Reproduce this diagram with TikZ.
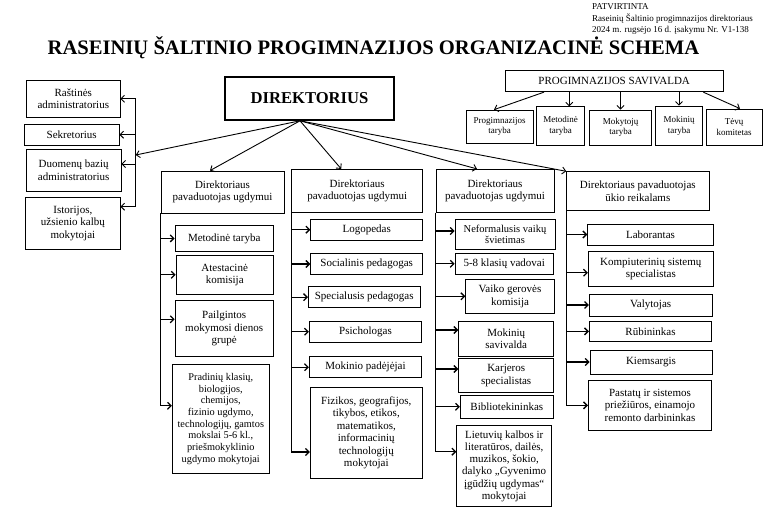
\documentclass[tikz,border=0pt]{standalone}
\usepackage{fontspec}
\setmainfont{Liberation Serif}
\usetikzlibrary{arrows.meta}

\begin{document}
\begin{tikzpicture}[x=1pt,y=-1pt,
  box/.style={draw,line width=0.8pt,align=center,inner sep=1.5pt,font=\fontsize{11}{12.5}\selectfont},
  small/.style={box,font=\fontsize{9}{10.5}\selectfont},
  sz/.style 2 args={minimum width=#1pt,minimum height=#2pt},
  arr/.style={-{Straight Barb[length=3.5pt,width=7pt]},line width=0.9pt},
  bus/.style={arr,line width=1.3pt}]
\useasboundingbox (0,0) rectangle (780,514);

% header
\node[font=\bfseries\fontsize{20.6}{24}\selectfont] (title) at (373.5,48) {RASEINIŲ ŠALTINIO PROGIMNAZIJOS ORGANIZACINĖ SCHEMA};
\node[anchor=north west,align=left,inner sep=0pt,font=\fontsize{9}{11.5}\selectfont] (patv) at (592,3.5) {PATVIRTINTA\\Raseinių Šaltinio progimnazijos direktoriaus\\2024 m. rugsėjo 16 d. įsakymu Nr. V1-138};

\node[box,line width=1.6pt,sz={169}{43},font=\bfseries\fontsize{16.6}{20}\selectfont] (dir) at (309.5,98.5) {DIREKTORIUS};
\coordinate (dirb) at ([xshift=-9.5pt]dir.south);

% left column
\node[box,sz={93.3}{37.7}] (rast) at (73.3,98.8) {Raštinės\\administratorius};
\node[box,sz={94.7}{20.7}] (sekr) at (71.7,134.7) {Sekretorius};
\node[box,sz={94.7}{42}] (duom) at (73.7,170) {Duomenų bazių\\administratorius};
\node[box,sz={94.3}{52}] (ist) at (72.9,223.3) {Istorijos,\\užsienio kalbų\\mokytojai};
\coordinate (lbus) at (135.7,155);
\coordinate (duomin) at ([yshift=6pt]duom.east);
\coordinate (istin) at ([yshift=16.6pt]ist.east);
\draw[line width=0.9pt] (lbus |- rast.east) -- (lbus |- istin);
\draw[arr] (lbus |- rast.east) -- (rast.east);
\draw[arr] (lbus |- sekr.east) -- (sekr.east);
\draw[arr] (lbus |- duomin) -- (duomin);
\draw[arr] (lbus |- istin) -- (istin);
\draw[arr] (dirb) -- (lbus);

% deputies
\node[box,sz={123}{42}] (ped1) at (222.5,192) {Direktoriaus\\pavaduotojas ugdymui};
\node[box,sz={131}{43}] (ped2) at (357.2,190.8) {Direktoriaus\\pavaduotojas ugdymui};
\node[box,sz={118}{43}] (ped3) at (495,190.8) {Direktoriaus\\pavaduotojas ugdymui};
\node[box,sz={142.3}{38.8}] (ukio) at (637.8,191.1) {Direktoriaus pavaduotojas\\ūkio reikalams};
\draw[arr] (dirb) -- ([xshift=-12.5pt]ped1.north);
\draw[arr] (dirb) -- ([xshift=-16pt]ped2.north);
\draw[arr] (dirb) -- ([xshift=-18pt]ped3.north);
\draw[arr] (dirb) -- (ukio.north west);

% column 1
\node[box,sz={98.3}{25.3}] (met) at (224.2,238.4) {Metodinė taryba};
\node[box,sz={97.3}{38.5}] (ates) at (224.7,274.8) {Atestacinė\\komisija};
\node[box,sz={98.3}{56}] (pail) at (224.2,328.7) {Pailgintos\\mokymosi dienos\\grupė};
\node[box,sz={97}{109},font=\fontsize{10.3}{11.7}\selectfont] (prad) at (220.8,418.8) {Pradinių klasių,\\biologijos,\\chemijos,\\fizinio ugdymo,\\technologijų, gamtos\\mokslai 5-6 kl.,\\priešmokyklinio\\ugdymo mokytojai};
\coordinate (pailin) at ([yshift=9.4pt]pail.west);
\coordinate (pradin) at ([yshift=13pt]prad.west);
\draw[bus] (ped1.south west) |- (pradin);
\draw[bus] (ped1.south west |- met.west) -- (met.west);
\draw[bus] (ped1.south west |- ates.west) -- (ates.west);
\draw[bus] (ped1.south west |- pailin) -- (pailin);

% column 2
\node[box,sz={112}{20.7}] (logo) at (366.7,229.7) {Logopedas};
\node[box,sz={112}{20.6}] (soc) at (366.7,264) {Socialinis pedagogas};
\node[box,sz={111.7}{21}] (spec) at (364.2,297.2) {Specialusis pedagogas};
\node[box,sz={112.4}{21.3}] (psich) at (365.5,331.7) {Psichologas};
\node[box,sz={112.4}{21}] (pad) at (365.5,367.2) {Mokinio padėjėjai};
\node[box,sz={112}{91}] (fiz) at (366.3,432.8) {Fizikos, geografijos,\\tikybos, etikos,\\matematikos,\\informacinių\\technologijų\\mokytojai};
\coordinate (fizin) at ([yshift=-19.2pt]fiz.west);
\draw[bus] (ped2.south west) |- (fizin);
\draw[bus] (ped2.south west |- logo.west) -- (logo.west);
\draw[bus] (ped2.south west |- soc.west) -- (soc.west);
\draw[bus] (ped2.south west |- spec.west) -- (spec.west);
\draw[bus] (ped2.south west |- psich.west) -- (psich.west);
\draw[bus] (ped2.south west |- pad.west) -- (pad.west);

% column 3
\node[box,sz={100}{30.3},font=\fontsize{10.5}{11}\selectfont] (nef) at (505,234.2) {Neformalusis vaikų\\švietimas};
\node[box,sz={98.3}{21}] (kl) at (504.2,263.8) {5-8 klasių vadovai};
\node[box,sz={88.6}{34}] (vgk) at (510,296.3) {Vaiko gerovės\\komisija};
\node[box,sz={95}{35}] (msav) at (506.2,338.5) {Mokinių\\savivalda};
\node[box,sz={95}{34.7}] (karj) at (506.2,375.4) {Karjeros\\specialistas};
\node[box,sz={93}{23}] (bibl) at (506.8,406.8) {Bibliotekininkas};
\node[box,sz={95}{81},font=\fontsize{11}{12.2}\selectfont] (liet) at (504.2,466.2) {Lietuvių kalbos ir\\literatūros, dailės,\\muzikos, šokio,\\dalyko „Gyvenimo\\įgūdžių ugdymas“\\mokytojai};
\coordinate (nefin) at ([yshift=3.2pt]nef.west);
\coordinate (msavin) at ([yshift=8.5pt]msav.west);
\coordinate (karjin) at ([yshift=6.4pt]karj.west);
\coordinate (lietin) at ([yshift=14.5pt]liet.west);
\draw[bus] (ped3.south west) |- (lietin);
\draw[bus] (ped3.south west |- nefin) -- (nefin);
\draw[bus] (ped3.south west |- kl.west) -- (kl.west);
\draw[bus] (ped3.south west |- vgk.west) -- (vgk.west);
\draw[bus] (ped3.south west |- msavin) -- (msavin);
\draw[bus] (ped3.south west |- karjin) -- (karjin);
\draw[bus] (ped3.south west |- bibl.west) -- (bibl.west);

% column 4
\node[box,sz={125.6}{21}] (lab) at (650.5,234.5) {Laborantas};
\node[box,sz={125}{35}] (komp) at (650.8,269.2) {Kompiuterinių sistemų\\specialistas};
\node[box,sz={122.7}{22}] (valyt) at (650.7,305) {Valytojas};
\node[box,sz={122.4}{20.7}] (rub) at (650.5,331.4) {Rūbininkas};
\node[box,sz={122}{24}] (kiem) at (651,362) {Kiemsargis};
\node[box,sz={123.4}{49.3}] (past) at (650,405.4) {Pastatų ir sistemos\\priežiūros, einamojo\\remonto darbininkas};
\coordinate (kompin) at ([yshift=-3.5pt]komp.west);
\draw[bus] (ukio.south west) |- (past.west);
\draw[bus] (ukio.south west |- lab.west) -- (lab.west);
\draw[bus] (ukio.south west |- kompin) -- (kompin);
\draw[bus] (ukio.south west |- valyt.west) -- (valyt.west);
\draw[bus] (ukio.south west |- rub.west) -- (rub.west);
\draw[bus] (ukio.south west |- kiem.west) -- (kiem.west);

% self-government
\node[box,sz={218.3}{21.7}] (sav) at (614.2,80.9) {PROGIMNAZIJOS SAVIVALDA};
\node[small,sz={67.3}{33.3}] (st1) at (499.7,126.7) {Progimnazijos\\taryba};
\node[small,sz={47.6}{38.3}] (st2) at (560.5,125.9) {Metodinė\\taryba};
\node[small,sz={62.4}{35}] (st3) at (620.5,127.5) {Mokytojų\\taryba};
\node[small,sz={46.6}{39.7}] (st4) at (679,125.9) {Mokinių\\taryba};
\node[small,sz={56.3}{36}] (st5) at (734.2,127) {Tėvų\\komitetas};
\draw[arr] ([xshift=-70.2pt]sav.south) -- ([xshift=-5.7pt]st1.north);
\draw[arr] ([xshift=-44.9pt]sav.south) -- ([xshift=8.8pt]st2.north);
\draw[arr] (sav.south -| st3.north) -- (st3.north);
\draw[arr] (sav.south -| st4.north) -- (st4.north);
\draw[arr] ([xshift=89.1pt]sav.south) -- ([xshift=5.8pt]st5.north);

\end{tikzpicture}
\end{document}
